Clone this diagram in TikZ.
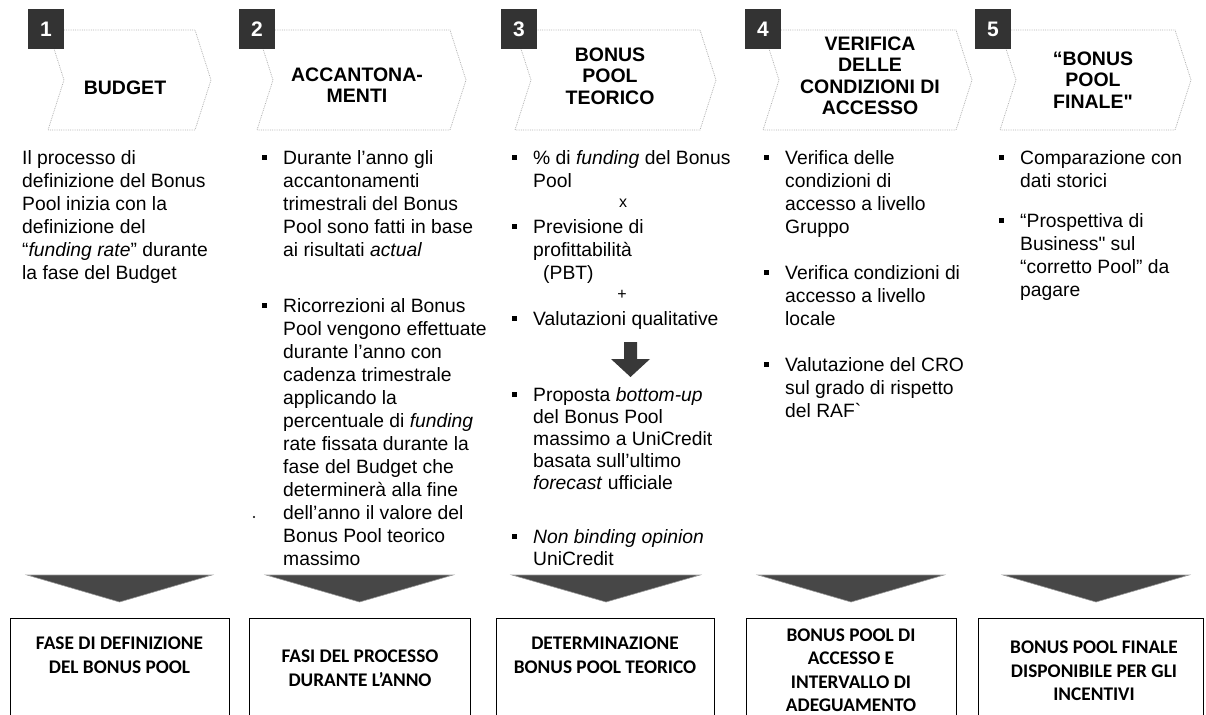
\documentclass[tikz,border=0pt]{standalone}
\usepackage{fontspec}
\setmainfont{Liberation Sans}
\newfontfamily\boxfont{Carlito}
\usetikzlibrary{positioning}

\newcommand{\blt}{\llap{\rule[4.5pt]{5pt}{5pt}\hspace{16pt}}}
\newcommand{\dq}{{\addfontfeature{Ligatures=TeXOff}\symbol{34}}}

\begin{document}
\begin{tikzpicture}[
    x=1pt, y=-1pt,
    stepnum/.style={
        fill=black!80, text=white, inner sep=0pt,
        minimum width=36pt, minimum height=40pt,
        font=\fontsize{21}{21}\selectfont\bfseries
    },
    chevron/.style={draw=gray!60, densely dotted, line width=0.8pt},
    title/.style={
        align=center, inner sep=0pt,
        font=\fontsize{19.5}{21.5}\selectfont\bfseries
    },
    body/.style={
        align=left, anchor=north west, inner sep=0pt,
        font=\fontsize{19.3}{23}\selectfont
    },
    tightbody/.style={
        align=left, anchor=north west, inner sep=0pt,
        font=\fontsize{19.3}{22}\selectfont
    },
    sign/.style={inner sep=0pt, font=\fontsize{16}{16}\selectfont},
    downarrow/.style={fill=black!72, draw=black!40, line width=0.6pt},
    phase/.style={
        draw, line width=1.3pt, anchor=north west,
        inner sep=0pt, minimum height=130pt
    },
    phaselabel/.style={
        align=center, inner sep=0pt,
        font=\boxfont\bfseries\fontsize{19.3}{23.5}\selectfont
    }
]

    \useasboundingbox (0,0) rectangle (1206,714);

    %------------------------------------------------
    % Step headers
    %------------------------------------------------

    \draw[chevron] (48,30) -- (195,30) -- (211,80) -- (195,130)
        -- (48,130) -- (64,80) -- cycle;
    \draw[chevron] (257,30) -- (450,30) -- (466,80) -- (450,130)
        -- (257,130) -- (273,80) -- cycle;
    \draw[chevron] (515,30) -- (700,30) -- (716,80) -- (700,130)
        -- (515,130) -- (531,80) -- cycle;
    \draw[chevron] (763,30) -- (956,30) -- (972,80) -- (956,130)
        -- (763,130) -- (779,80) -- cycle;
    \draw[chevron] (1000,30) -- (1175,30) -- (1191,80) -- (1175,130)
        -- (1000,130) -- (1016,80) -- cycle;

    \node[stepnum] (n1) at (46,29) {1};
    \node[stepnum] (n2) at (257,29) {2};
    \node[stepnum] (n3) at (519,29) {3};
    \node[stepnum] (n4) at (763,29) {4};
    \node[stepnum] (n5) at (993,29) {5};

    \node[title] (h1) at (125,88) {BUDGET};
    \node[title] (h2) at (357,85) {ACCANTONA-\\MENTI};
    \node[title] (h3) at (610,76) {BONUS\\POOL\\TEORICO};
    \node[title] (h4) at (870,76) {VERIFICA\\DELLE\\CONDIZIONI DI\\ACCESSO};
    \node[title] (h5) at (1093,80) {“BONUS\\POOL\\FINALE\dq};

    %------------------------------------------------
    % Column texts
    %------------------------------------------------

    \node[body] (c1) at (22,150)
        {Il processo di\\definizione del Bonus\\Pool inizia con la\\%
         definizione del\\“\textit{funding rate}” durante\\la fase del Budget};

    \node[body] (c2a) at (283,150)
        {\blt Durante l’anno gli\\accantonamenti\\trimestrali del Bonus\\%
         Pool sono fatti in base\\ai risultati \textit{actual}};
    \node[body] (c2b) at (283,298)
        {\blt Ricorrezioni al Bonus\\Pool vengono effettuate\\%
         durante l'anno con\\cadenza trimestrale\\applicando la\\%
         percentuale di \textit{funding}\\rate fissata durante la\\%
         fase del Budget che\\determinerà alla fine\\%
         dell'anno il valore del\\Bonus Pool teorico\\massimo};
    \fill (254,517) circle (1.2pt);

    \node[body] (c3a) at (533,150)
        {\blt \% di \textit{funding} del Bonus\\Pool};
    \node[sign] (times) at (623,203) {x};
    \node[body] (c3b) at (533,219)
        {\blt Previsione di\\profittabilità\\\hspace*{10pt}(PBT)};
    \node[sign] (plus) at (622,295) {+};
    \node[body] (c3c) at (533,311)
        {\blt Valutazioni qualitative};
    \fill[black!78] (624,342) -- (637,342) -- (637,359) -- (650,359)
        -- (630.5,377) -- (611,359) -- (624,359) -- cycle;
    \node[tightbody] (c3d) at (533,387)
        {\blt Proposta \textit{bottom-up}\\del Bonus Pool\\%
         massimo a UniCredit\\basata sull’ultimo\\\textit{forecast} ufficiale};
    \node[tightbody] (c3e) at (533,529)
        {\blt \textit{Non binding opinion}\\UniCredit};

    \node[body] (c4a) at (785,150)
        {\blt Verifica delle\\condizioni di\\accesso a livello\\Gruppo};
    \node[body] (c4b) at (785,265)
        {\blt Verifica condizioni di\\accesso a livello\\locale};
    \node[body] (c4c) at (785,357)
        {\blt Valutazione del CRO\\sul grado di rispetto\\del RAF\textasciigrave};

    \node[body] (c5a) at (1020,150)
        {\blt Comparazione con\\dati storici};
    \node[body] (c5b) at (1020,213)
        {\blt “Prospettiva di\\Business\dq{} sul\\“corretto Pool” da\\pagare};

    %------------------------------------------------
    % Arrows down to the phases
    %------------------------------------------------

    \fill[downarrow] (27,575) -- (212,575) -- (119.5,602) -- cycle;
    \fill[downarrow] (266,575) -- (453,575) -- (359.5,602) -- cycle;
    \fill[downarrow] (512,575) -- (700,575) -- (606,602) -- cycle;
    \fill[downarrow] (758,575) -- (944,575) -- (851,602) -- cycle;
    \fill[downarrow] (1003,575) -- (1189,575) -- (1096,602) -- cycle;

    %------------------------------------------------
    % Phases
    %------------------------------------------------

    \node[phase, minimum width=219pt] (box1) at (10,618) {};
    \node[phase, minimum width=221pt] (box2) at (249,618) {};
    \node[phase, minimum width=218pt] (box3) at (496,618) {};
    \node[phase, minimum width=210pt] (box4) at (746,618) {};
    \node[phase, minimum width=225pt] (box5) at (978,618) {};

    \node[phaselabel] (p1) at (119.5,655) {FASE DI DEFINIZIONE\\DEL BONUS POOL};
    \node[phaselabel] (p2) at (360,668) {FASI DEL PROCESSO\\DURANTE L’ANNO};
    \node[phaselabel] (p3) at (605,655) {DETERMINAZIONE\\BONUS POOL TEORICO};
    \node[phaselabel] (p4) at (851,670)
        {BONUS POOL DI\\ACCESSO E\\INTERVALLO DI\\ADEGUAMENTO};
    \node[phaselabel] (p5) at (1094,671)
        {BONUS POOL FINALE\\DISPONIBILE PER GLI\\INCENTIVI};

\end{tikzpicture}
\end{document}
